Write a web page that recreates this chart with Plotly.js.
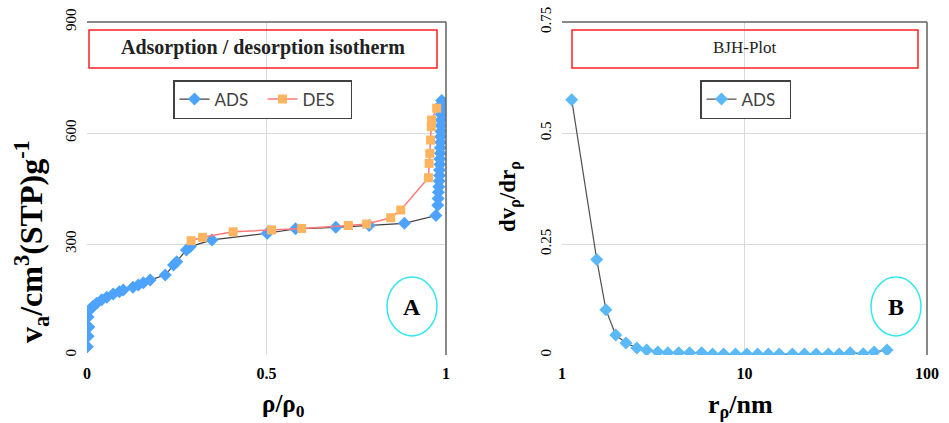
<!DOCTYPE html>
<html>
<head>
<meta charset="utf-8">
<script src="https://cdn.plot.ly/plotly-3.0.1.min.js"></script>
<style>html,body{margin:0;padding:0;background:#fff;}#chart{width:949px;height:423px;}</style>
</head>
<body>
<div id="chart"></div>
<script>
// ---- Data: adsorption / desorption isotherm (relative pressure, volume) ----
const adsP = [0.001,0.003,0.005,0.003,0.008,0.016,0.027,0.041,0.055,0.073,0.090,0.101,0.128,0.143,0.157,0.176,0.218,0.241,0.250,0.277,0.288,0.348,0.502,0.581,0.693,0.786,0.884,0.972,0.977,0.978,0.979,0.980,0.981,0.982,0.982,0.983,0.983,0.984,0.984,0.985,0.985,0.986,0.986,0.986,0.987,0.987,0.987,0.988];
const adsV = [22,51,76,103,122,131,140,149,156,165,171,176,183,189,195,203,216,243,252,284,293,311,329,341,345,350,356,377,405,423,440,455,470,485,500,515,530,545,560,575,590,605,620,635,650,665,678,688];
const desP = [0.974,0.960,0.959,0.957,0.955,0.953,0.951,0.874,0.846,0.779,0.728,0.598,0.514,0.407,0.322,0.290];
const desV = [667,635,617,581,545,518,479,392,371,354,350,342,338,333,318,309];
// ---- Data: BJH plot (pore radius nm, dv/dr) ----
const poreR = [1.13,1.55,1.74,1.97,2.24,2.57,2.91,3.35,3.80,4.36,5.0,5.82,6.68,7.68,8.93,10.3,11.8,13.5,15.5,18.3,21.3,24.7,28.8,33.0,37.9,44.7,51.3,60.4];
const dvdr = [0.575,0.215,0.102,0.045,0.027,0.016,0.011,0.007,0.005,0.005,0.005,0.005,0.002,0.002,0.002,0.002,0.002,0.002,0.002,0.002,0.002,0.002,0.002,0.002,0.005,0.003,0.007,0.011];
// ---- Tick values (labels are the values themselves) ----
const xTicksA = [0,0.5,1];
const yTicksA = [0,300,600,900];
const xTicksB = [1,10,100];
const yTicksB = [0,0.25,0.5,0.75];
// ---- Texts ----
const titleA = 'Adsorption / desorption isotherm';
const titleB = 'BJH-Plot';
const xTitleA = 'ρ/ρ<sub>0</sub>';
const yTitleA = 'v<sub>a</sub>/cm<sup>3</sup>(STP)g<sup>-1</sup>';
const xTitleB = 'r<sub>ρ</sub>/nm';
const yTitleB = 'dv<sub>ρ</sub>/dr<sub>ρ</sub>';

const W = 949, H = 423;
const px = v => v / W, py = v => 1 - v / H;
const serif = 'Liberation Serif';
const sans = 'Lato';
const grid = '#d9d9d9';

const traces = [
  {x: adsP, y: adsV, name: 'ADS', type: 'scatter', mode: 'lines+markers', xaxis: 'x', yaxis: 'y', legend: 'legend',
   line: {color: '#404040', width: 1.2}, marker: {symbol: 'diamond', size: 10, color: '#4da3ff'}},
  {x: desP, y: desV, name: 'DES', type: 'scatter', mode: 'lines+markers', xaxis: 'x', yaxis: 'y', legend: 'legend',
   line: {color: '#ff7a7a', width: 1.5}, marker: {symbol: 'square', size: 9, color: '#ffb460'}},
  {x: poreR, y: dvdr, name: 'ADS', type: 'scatter', mode: 'lines+markers', xaxis: 'x2', yaxis: 'y2', legend: 'legend2',
   line: {color: '#505050', width: 1.2}, marker: {symbol: 'diamond', size: 10, color: '#5bbaf6'}}
];

const tickX = {family: serif, size: 16, color: '#000', weight: 'bold'};
const tickY = {family: serif, size: 15, color: '#000'};

const frame = (xr, yr) => [
  {type: 'line', xref: xr + ' domain', yref: yr + ' domain', x0: 0, x1: 1, y0: 1, y1: 1, line: {color: '#606060', width: 1.5}},
  {type: 'line', xref: xr + ' domain', yref: yr + ' domain', x0: 1, x1: 1, y0: 0, y1: 1, line: {color: '#606060', width: 1.5}}
];

const common = {showgrid: true, gridcolor: grid, zeroline: false, showline: false, automargin: false,
                ticks: 'outside', tickcolor: 'rgba(0,0,0,0)'};

const layout = {
  width: W, height: H,
  margin: {l: 0, r: 0, t: 0, b: 0},
  paper_bgcolor: '#fff', plot_bgcolor: '#fff',
  showlegend: true,
  hovermode: false,
  xaxis: {...common, ticklen: 4, domain: [px(87), px(446)], range: [0, 1], tickvals: xTicksA, tickfont: tickX},
  yaxis: {...common, ticklen: 4, domain: [1 - 355 / H, 1 - 22 / H], range: [0, 900], tickvals: yTicksA, tickfont: tickY, tickangle: -90},
  xaxis2: {...common, ticklen: 4, domain: [px(562), px(927)], type: 'log', range: [0, 2], tickvals: xTicksB, tickfont: tickX, anchor: 'y2'},
  yaxis2: {...common, ticklen: 4, domain: [1 - 355 / H, 1 - 22 / H], range: [0, 0.75], tickvals: yTicksB, tickfont: tickY, tickangle: -90, anchor: 'x2'},
  legend: {orientation: 'h', x: px(173), y: py(80), xanchor: 'left', yanchor: 'top', bgcolor: '#fff', entrywidth: 43,
           bordercolor: '#404040', borderwidth: 1.5, font: {family: sans, size: 17, color: '#404040'}},
  legend2: {orientation: 'h', x: px(700), y: py(80), xanchor: 'left', yanchor: 'top', bgcolor: '#fff', entrywidth: 43,
            bordercolor: '#404040', borderwidth: 1.5, font: {family: sans, size: 17, color: '#404040'}},
  shapes: [
    ...frame('x', 'y'), ...frame('x2', 'y2'),
    {type: 'rect', xref: 'paper', yref: 'paper', x0: px(89), x1: px(437), y0: py(68), y1: py(30), line: {color: '#ff2020', width: 1.5}, fillcolor: 'rgba(0,0,0,0)'},
    {type: 'rect', xref: 'paper', yref: 'paper', x0: px(572), x1: px(918), y0: py(68), y1: py(30), line: {color: '#ff2020', width: 1.5}, fillcolor: 'rgba(0,0,0,0)'},
    {type: 'circle', xref: 'paper', yref: 'paper', x0: px(387), x1: px(437), y0: py(336), y1: py(277), line: {color: '#33e6f0', width: 1.5}},
    {type: 'circle', xref: 'paper', yref: 'paper', x0: px(871), x1: px(921), y0: py(336), y1: py(277), line: {color: '#33e6f0', width: 1.5}}
  ],
  annotations: [
    {xref: 'paper', yref: 'paper', x: px(263), y: py(48), text: titleA, showarrow: false, xanchor: 'center', yanchor: 'middle',
     font: {family: serif, size: 20, color: '#222', weight: 'bold'}},
    {xref: 'paper', yref: 'paper', x: px(745), y: py(48), text: titleB, showarrow: false, xanchor: 'center', yanchor: 'middle',
     font: {family: serif, size: 17, color: '#222'}},
    {xref: 'paper', yref: 'paper', x: px(412), y: py(307), text: 'A', showarrow: false, xanchor: 'center', yanchor: 'middle',
     font: {family: serif, size: 24, color: '#000', weight: 'bold'}},
    {xref: 'paper', yref: 'paper', x: px(896), y: py(307), text: 'B', showarrow: false, xanchor: 'center', yanchor: 'middle',
     font: {family: serif, size: 24, color: '#000', weight: 'bold'}},
    // axis titles
    {xref: 'paper', yref: 'paper', x: px(283), y: py(405), text: xTitleA, showarrow: false, xanchor: 'center', yanchor: 'middle',
     font: {family: serif, size: 25, color: '#000', weight: 'bold'}},
    {xref: 'paper', yref: 'paper', x: px(740), y: py(406), text: xTitleB, showarrow: false, xanchor: 'center', yanchor: 'middle',
     font: {family: serif, size: 26, color: '#000', weight: 'bold'}},
    {xref: 'paper', yref: 'paper', x: px(31), y: py(242), text: yTitleA, showarrow: false, textangle: -90, xanchor: 'center', yanchor: 'middle',
     font: {family: serif, size: 32, color: '#000', weight: 'bold'}},
    {xref: 'paper', yref: 'paper', x: px(509), y: py(197), text: yTitleB, showarrow: false, textangle: -90, xanchor: 'center', yanchor: 'middle',
     font: {family: serif, size: 23, color: '#000', weight: 'bold'}}
  ]
};

Plotly.newPlot('chart', traces, layout, {staticPlot: true, displayModeBar: false});
</script>
</body>
</html>
